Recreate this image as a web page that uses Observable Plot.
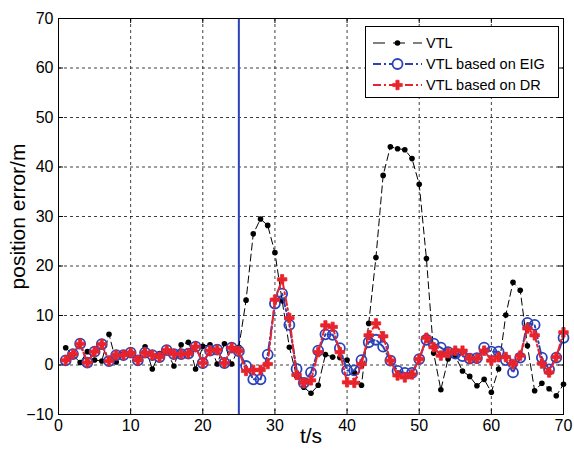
<!DOCTYPE html>
<html><head><meta charset="utf-8">
<script src="https://cdn.jsdelivr.net/npm/d3@7"></script>
<script src="https://cdn.jsdelivr.net/npm/@observablehq/plot@0.6"></script>
<style>html,body{margin:0;padding:0;background:#fff;} #chart{width:574px;height:454px;}</style>
</head><body><div id="chart"></div>
<script>
const times = [1,2,3,4,5,6,7,8,9,10,11,12,13,14,15,16,17,18,19,20,21,22,23,24,25,26,27,28,29,30,31,32,33,34,35,36,37,38,39,40,41,42,43,44,45,46,47,48,49,50,51,52,53,54,55,56,57,58,59,60,61,62,63,64,65,66,67,68,69,70];
const vtl = [3.5,2.0,0.5,2.7,1.0,0.8,6.2,0.6,2.2,2.5,1.2,3.7,-0.8,2.3,2.8,-0.2,4.1,4.6,-0.8,3.8,4.1,0.2,4.3,0.2,3.6,
  13.1,26.5,29.5,28.2,22.7,13.0,3.6,-2.2,-4.5,-5.7,-4.1,2.1,1.6,1.5,1.0,-1.5,-4.1,8.4,21.7,38.3,44.1,43.7,43.5,41.7,36.5,
  21.5,2.4,-5.0,1.2,1.8,-1.2,-2.3,-4.2,-2.9,-5.5,-0.8,10.1,16.7,15.1,3.9,-5.2,-3.7,-4.8,-6.2,-3.9];
const eig = [0.95,2.2,4.3,0.5,2.7,4.2,0.8,2.0,2.0,2.5,0.95,2.5,2.0,1.6,3.0,2.2,2.2,2.3,3.7,0.4,2.9,3.1,0.4,3.5,2.8,
  -0.2,-2.9,-2.9,2.1,12.4,14.4,8.1,-0.8,-3.6,-1.5,2.9,6.2,6.1,3.4,-1.1,-1.1,1.0,4.6,5.1,3.7,0.9,-1.2,-1.6,-1.6,1.2,
  5.1,4.3,3.5,2.6,2.3,1.8,1.3,1.4,3.5,2.7,2.7,1.0,-1.5,1.5,8.5,8.1,1.5,-0.9,1.5,5.5];
const dr = [0.95,2.2,4.3,0.5,2.7,4.2,0.8,2.0,2.0,2.5,0.95,2.5,2.0,1.6,3.0,2.2,2.2,2.3,3.7,0.4,2.9,3.1,0.4,3.5,2.8,
  -1.2,-1.0,-1.0,0.2,13.2,17.3,9.5,-2.0,-3.6,-3.1,2.6,8.0,7.7,2.6,-3.5,-3.6,0.2,6.0,8.4,5.8,0.9,-2.1,-2.5,-1.9,1.2,
  5.5,3.6,1.9,2.4,2.9,2.9,1.3,1.3,2.9,0.9,1.6,1.6,0.2,1.9,7.4,6.0,0.3,-1.5,1.6,6.6];
const switchTime = [25];
const xTicks = [0,10,20,30,40,50,60,70];
const yTicks = [-10,0,10,20,30,40,50,60,70];
const xGrid = [10,20,30,40,50,60];
const yGrid = [0,10,20,30,40,50,60];
const seriesNames = ["VTL","VTL based on EIG","VTL based on DR"];

const BLUE = "#2b43b8", RED = "#e8232b", BLACK = "#000";
const FONT = '"Liberation Sans", Arial, Helvetica, sans-serif';
const mk = arr => times.map((t,i) => ({t, v: arr[i]}));
const vtlData = mk(vtl), eigData = mk(eig), drData = mk(dr);

const svg = Plot.plot({
  width: 574, height: 454,
  marginLeft: 58, marginRight: 11, marginTop: 18, marginBottom: 40,
  style: {fontFamily: FONT, fontSize: "16px", background: "white", color: "black"},
  x: {domain: [0,70]},
  y: {domain: [-10,70]},
  marks: [
    Plot.gridX(xGrid, {stroke: BLACK, strokeOpacity: 0.75, strokeDasharray: "3,3"}),
    Plot.gridY(yGrid, {stroke: BLACK, strokeOpacity: 0.75, strokeDasharray: "3,3"}),
    Plot.ruleX(switchTime, {stroke: BLUE, strokeWidth: 2}),
    Plot.line(vtlData, {x: "t", y: "v", stroke: BLACK, strokeWidth: 1, strokeDasharray: "7,4"}),
    Plot.dot(vtlData, {x: "t", y: "v", r: 2.8, fill: BLACK}),
    Plot.line(eigData, {x: "t", y: "v", stroke: BLUE, strokeWidth: 2, strokeDasharray: "8,3,2,3"}),
    Plot.dot(eigData, {x: "t", y: "v", r: 5, stroke: BLUE, strokeWidth: 1.8, fill: "none"}),
    Plot.line(drData, {x: "t", y: "v", stroke: RED, strokeWidth: 2, strokeDasharray: "8,3,2,3"}),
    Plot.dot(drData, {x: "t", y: "v", symbol: "cross", r: 4, fill: RED, stroke: RED, strokeWidth: 0.8}),
    Plot.frame({stroke: BLACK, strokeWidth: 1}),
    Plot.ruleX(xTicks, {y1: -10, y2: -9, stroke: BLACK}),
    Plot.ruleX(xTicks, {y1: 70, y2: 69, stroke: BLACK}),
    Plot.ruleY(yTicks, {x1: 0, x2: 0.7, stroke: BLACK}),
    Plot.ruleY(yTicks, {x1: 70, x2: 69.3, stroke: BLACK}),
    Plot.axisX(xTicks, {tickSize: 0, tickPadding: 5, label: null, fontSize: 16}),
    Plot.axisY(yTicks, {tickSize: 0, tickPadding: 5, label: null, fontSize: 16}),
    Plot.text(["t/s"], {frameAnchor: "bottom", dy: 28, fontSize: 21, fill: BLACK, textAnchor: "middle"}),
    Plot.text(["position error/m"], {frameAnchor: "left", dx: -40, rotate: -90, fontSize: 21, fill: BLACK, textAnchor: "middle"})
  ]
});
document.getElementById("chart").appendChild(svg);

// legend inside the plot area (upper right)
const s = d3.select(svg);
const lg = s.append("g").attr("font-family", FONT).attr("font-size", 14.5).attr("text-anchor", "start");
lg.append("rect").attr("x", 365.5).attr("y", 26.5).attr("width", 193).attr("height", 71)
  .attr("fill", "white").attr("stroke", BLACK).attr("stroke-width", 1);
const rowsY = [43, 64, 85];
const styles = [
  {stroke: BLACK, w: 1, dash: "12,8"},
  {stroke: BLUE, w: 2, dash: "8,3,2,3"},
  {stroke: RED, w: 2, dash: "8,3,2,3"}
];
seriesNames.forEach((name, i) => {
  const y = rowsY[i], st = styles[i];
  lg.append("line").attr("x1", 373).attr("x2", 422).attr("y1", y).attr("y2", y)
    .attr("stroke", st.stroke).attr("stroke-width", st.w).attr("stroke-dasharray", st.dash);
  if (i === 0) lg.append("circle").attr("cx", 397.5).attr("cy", y).attr("r", 2.8).attr("fill", BLACK);
  if (i === 1) lg.append("circle").attr("cx", 397.5).attr("cy", y).attr("r", 5).attr("fill", "white").attr("stroke", BLUE).attr("stroke-width", 1.8);
  if (i === 2) lg.append("path").attr("transform", `translate(397.5,${y})`).attr("d", d3.symbol(d3.symbolCross, Math.PI*4*4)())
    .attr("fill", RED).attr("stroke", RED).attr("stroke-width", 0.8);
  lg.append("text").attr("x", 426).attr("y", y).attr("dy", "0.35em").attr("text-anchor", "start").attr("fill", BLACK).text(name);
});
</script>
</body></html>
